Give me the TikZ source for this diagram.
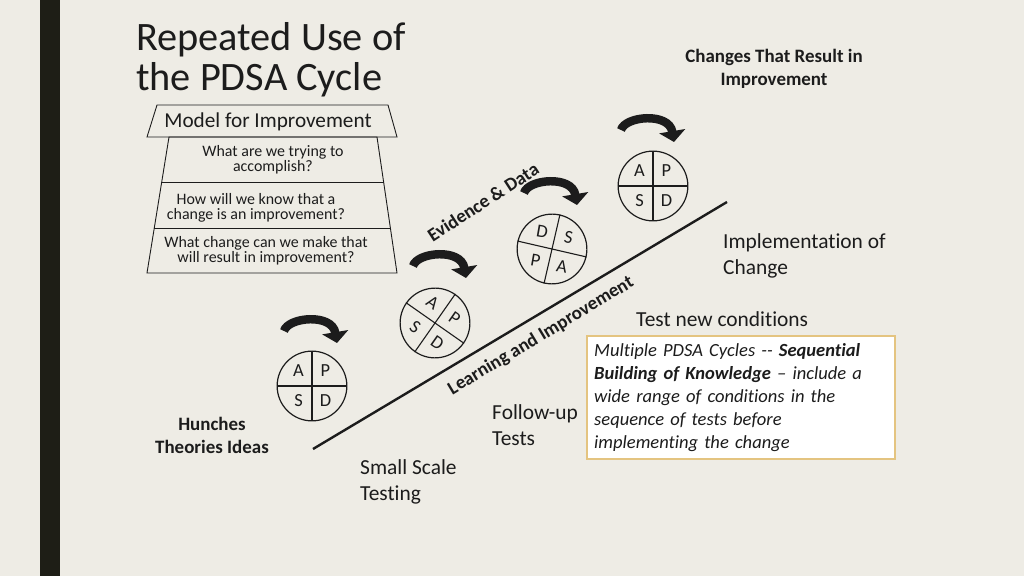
\documentclass[tikz,border=0pt]{standalone}
\usepackage{fontspec}
\setmainfont{Carlito}[Ligatures={NoCommon}]
\usetikzlibrary{positioning,calc,arrows.meta}
\definecolor{slidebg}{RGB}{238,236,229}
\definecolor{slidebar}{RGB}{30,30,22}
\definecolor{boxgold}{RGB}{228,196,128}
\definecolor{ink}{RGB}{28,28,28}
\tikzset{
  frame/.style={draw=ink,line width=0.9},
  pdsa/.style={circle,draw=ink,line width=1.2,minimum size=70,inner sep=0},
  divide/.style={draw=ink,line width=1.1},
  letter/.style={font=\fontsize{18.5}{18.5}\selectfont,inner sep=0,text=ink},
  question/.style={font=\fontsize{16}{15}\selectfont,align=center,inner sep=0,text=ink},
  plain/.style={font=\fontsize{21.5}{26}\selectfont,align=left,inner sep=0,text=ink},
  boldlabel/.style={font=\fontsize{19}{23}\selectfont\bfseries,align=center,inner sep=0,text=ink},
  turn/.style={line width=8.5,draw=ink,-{Triangle[length=11,width=26]}},
  turnarrow/.pic={\draw[turn] (0,0) .. controls (4,-14) and (48,-18) .. (53,12);},
  notebox/.style={draw=boxgold,line width=2.5,fill=white,text width=295,inner xsep=7,
    minimum height=123,align=left,text=ink,font=\fontsize{18.6}{23}\selectfont\itshape}
}
\begin{document}
\begin{tikzpicture}[x=1bp,y=-1bp]
% slide
\fill[slidebg] (0,0) rectangle (1024,576);
\useasboundingbox (0,0) rectangle (1024,576);
\fill[slidebar] (40,0) rectangle (60,576);
\node[font=\fontsize{40.5}{40}\selectfont,align=left,inner sep=0,anchor=north west,text=ink]
  (title) at (136,22) {Repeated Use of\\the PDSA Cycle};

% model for improvement
\draw[frame] (157,105) -- (388,105) -- (397,137) -- (147,137) -- cycle;
\draw[frame] (169,137) coordinate (ql1) -- (377,137) coordinate (qr1)
  -- (397,273) coordinate (qr2) -- (147,273) coordinate (ql2) -- cycle;
\draw[frame] ($(ql1)!0.331!(ql2)$) -- ($(qr1)!0.331!(qr2)$);
\draw[frame] ($(ql1)!0.669!(ql2)$) -- ($(qr1)!0.669!(qr2)$);
\node[font=\fontsize{21.3}{21}\selectfont,inner sep=0,text=ink] (model) at (268,122) {Model for Improvement};
\node[question] (aim) at (273,160) {What are we trying to\\accomplish?};
\node[question] (measure) at (256,208) {How will we know that a\\change is an improvement?};
\node[question] (change) at (266,251) {What change can we make that\\will result in improvement?};

% ramp
\coordinate (lo) at (313,449);
\coordinate (hi) at (727,202);
\draw[ink,line width=2.4] (lo) -- (hi);
\node[boldlabel,rotate=31] (learn) at (541,336) {Learning and Improvement};
\node[boldlabel,rotate=33] (evid) at (483,202) {Evidence \& Data};

% cycles
\begin{scope}[shift={(312,386)}]
  \node[pdsa] (c1) at (0,0) {};
  \draw[divide] (c1.north) -- (c1.south) (c1.west) -- (c1.east);
  \node[letter] at (-13.5,-15) {A};
  \node[letter] at (13.5,-15) {P};
  \node[letter] at (-13.5,15) {S};
  \node[letter] at (13.5,15) {D};
\end{scope}
\begin{scope}[shift={(435,323)},rotate=-35,transform shape]
  \node[pdsa] (c2) at (0,0) {};
  \draw[divide] (c2.north) -- (c2.south) (c2.west) -- (c2.east);
  \node[letter] at (-13.5,-15) {A};
  \node[letter] at (13.5,-15) {P};
  \node[letter] at (-13.5,15) {S};
  \node[letter] at (13.5,15) {D};
\end{scope}
\begin{scope}[shift={(552,249)},rotate=-193,transform shape]
  \node[pdsa] (c3) at (0,0) {};
  \draw[divide] (c3.north) -- (c3.south) (c3.west) -- (c3.east);
  \node[letter,rotate=183] at (-13.5,-15) {A};
  \node[letter,rotate=183] at (13.5,-15) {P};
  \node[letter,rotate=183] at (-13.5,15) {S};
  \node[letter,rotate=183] at (13.5,15) {D};
\end{scope}
\begin{scope}[shift={(653,186)}]
  \node[pdsa] (c4) at (0,0) {};
  \draw[divide] (c4.north) -- (c4.south) (c4.west) -- (c4.east);
  \node[letter] at (-13.5,-15) {A};
  \node[letter] at (13.5,-15) {P};
  \node[letter] at (-13.5,15) {S};
  \node[letter] at (13.5,15) {D};
\end{scope}
\pic at (284,331) {turnarrow};
\pic at (413,266) {turnarrow};
\pic at (524,193) {turnarrow};
\pic at (621,130) {turnarrow};

% labels
\node[boldlabel] (changes) at (774,69) {Changes That Result in\\Improvement};
\node[plain,anchor=west] (impl) at (723,256) {Implementation of\\Change};
\node[plain,anchor=west] (testnew) at (636,319) {Test new conditions};
\node[notebox,anchor=north west] (multi) at (586,335)
  {Multiple PDSA Cycles -{}- \textbf{Sequential}\\
   \textbf{Building of Knowledge} – include a\\
   wide range of conditions in the\\
   sequence of tests before\\
   implementing the change};
\node[plain,anchor=west] (follow) at (492,425) {Follow-up\\Tests};
\node[plain,anchor=west] (small) at (360,482) {Small Scale\\Testing};
\node[boldlabel] (hunch) at (212,435) {Hunches\\Theories Ideas};
\end{tikzpicture}
\end{document}
